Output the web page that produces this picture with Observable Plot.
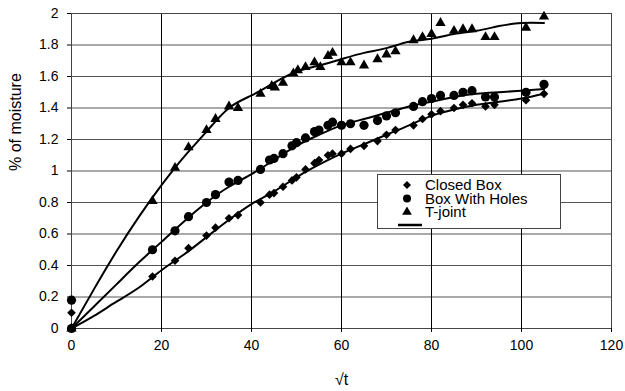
<!DOCTYPE html>
<html>
<head>
<meta charset="utf-8">
<script src="https://cdn.jsdelivr.net/npm/d3@7"></script>
<script src="https://cdn.jsdelivr.net/npm/@observablehq/plot@0.6"></script>
<style>
  html, body { margin: 0; padding: 0; background: #fff; }
  #wrap { position: relative; width: 625px; height: 391px; font-family: "Liberation Sans", Arial, sans-serif; }
  #legend { position: absolute; left: 377px; top: 174px; }
</style>
</head>
<body>
<div id="wrap"><div id="chart"></div><div id="legend"></div></div>
<script>
// ---- data ----
const seriesNames = ["Closed Box", "Box With Holes", "T-joint"];

const closedX = [0, 0, 18, 23, 26, 30, 32, 35, 37, 42, 44, 45, 47, 49, 50, 52, 54, 55, 57, 58, 60, 62, 65, 68, 70, 72, 76, 78, 80, 82, 85, 87, 89, 92, 94, 101, 105];
const closedY = [0, 0.10, 0.33, 0.43, 0.51, 0.59, 0.64, 0.70, 0.72, 0.80, 0.85, 0.86, 0.90, 0.94, 0.96, 1.01, 1.05, 1.07, 1.10, 1.11, 1.11, 1.14, 1.16, 1.19, 1.23, 1.26, 1.29, 1.33, 1.36, 1.38, 1.40, 1.42, 1.43, 1.41, 1.42, 1.45, 1.49];

const holesX = [0, 0, 18, 23, 26, 30, 32, 35, 37, 42, 44, 45, 47, 49, 50, 52, 54, 55, 57, 58, 60, 62, 65, 68, 70, 72, 76, 78, 80, 82, 85, 87, 89, 92, 94, 101, 105];
const holesY = [0, 0.18, 0.50, 0.62, 0.71, 0.80, 0.85, 0.93, 0.94, 1.01, 1.07, 1.08, 1.11, 1.16, 1.18, 1.21, 1.25, 1.26, 1.29, 1.31, 1.29, 1.30, 1.29, 1.32, 1.35, 1.37, 1.41, 1.44, 1.46, 1.48, 1.48, 1.50, 1.51, 1.47, 1.47, 1.50, 1.55];

const tjointX = [0, 18, 23, 26, 30, 32, 35, 37, 42, 44.5, 45.2, 47, 49.3, 50.3, 52, 54, 55.3, 57, 58, 60, 62, 65, 68, 70, 72, 76, 78, 80, 82, 85, 87, 89, 92, 94, 101, 105];
const tjointY = [0, 0.81, 1.02, 1.15, 1.26, 1.33, 1.41, 1.40, 1.49, 1.54, 1.53, 1.56, 1.62, 1.64, 1.66, 1.69, 1.66, 1.73, 1.75, 1.69, 1.69, 1.67, 1.71, 1.74, 1.76, 1.83, 1.85, 1.87, 1.94, 1.89, 1.90, 1.90, 1.85, 1.85, 1.91, 1.98];

// trend lines
const fitX = [0, 5, 10, 15, 20, 25, 30, 35, 40, 45, 50, 55, 60, 65, 70, 75, 80, 85, 90, 95, 100, 105];
const closedFit = [0, 0.08, 0.17, 0.26, 0.37, 0.47, 0.58, 0.69, 0.79, 0.87, 0.96, 1.04, 1.11, 1.17, 1.23, 1.29, 1.35, 1.39, 1.42, 1.44, 1.46, 1.49];
const holesFit  = [0, 0.14, 0.28, 0.42, 0.55, 0.68, 0.80, 0.90, 0.98, 1.07, 1.16, 1.23, 1.29, 1.33, 1.37, 1.41, 1.44, 1.47, 1.49, 1.50, 1.51, 1.52];
const tjointFit = [0, 0.25, 0.49, 0.71, 0.91, 1.09, 1.25, 1.40, 1.48, 1.56, 1.63, 1.67, 1.71, 1.75, 1.78, 1.82, 1.84, 1.87, 1.89, 1.92, 1.94, 1.94];

const xTicks = [0, 20, 40, 60, 80, 100, 120];
const yTicks = [0, 0.2, 0.4, 0.6, 0.8, 1, 1.2, 1.4, 1.6, 1.8, 2];
const xLabel = "√t";
const yLabel = "% of moisture";

// ---- build tables ----
const toPts = (xs, ys) => xs.map((x, i) => ({x, y: ys[i]}));
const closedPts = toPts(closedX, closedY);
const holesPts = toPts(holesX, holesY);
const tjointPts = toPts(tjointX, tjointY);
const closedLine = toPts(fitX, closedFit);
const holesLine = toPts(fitX, holesFit);
const tjointLine = toPts(fitX, tjointFit);

const chart = Plot.plot({
  width: 625,
  height: 391,
  marginLeft: 71,
  marginRight: 14,
  marginTop: 13,
  marginBottom: 63,
  style: {fontFamily: "'Liberation Sans', Arial, sans-serif", fontSize: "14px", color: "#000", background: "#fff"},
  x: {domain: [0, 120]},
  y: {domain: [0, 2]},
  marks: [
    Plot.gridY(yTicks, {stroke: "#555", strokeOpacity: 1, strokeWidth: 1}),
    Plot.gridX(xTicks, {stroke: "#000", strokeOpacity: 1, strokeWidth: 1}),
    Plot.frame({stroke: "#444", strokeWidth: 1}),
    Plot.axisX(xTicks, {tickSize: 4, tickPadding: 8, fontSize: 14, label: null, tickFormat: d => String(d)}),
    Plot.axisY(yTicks, {tickSize: 4, tickPadding: 9, fontSize: 14, label: null, tickFormat: d => String(d)}),
    Plot.text([yLabel], {frameAnchor: "left", dx: -56, rotate: -90, fontSize: 16}),
    Plot.text([xLabel], {frameAnchor: "bottom", dy: 56, fontSize: 16}),
    Plot.line(closedLine, {x: "x", y: "y", stroke: "#000", strokeWidth: 2, curve: "natural"}),
    Plot.line(holesLine, {x: "x", y: "y", stroke: "#000", strokeWidth: 2, curve: "natural"}),
    Plot.line(tjointLine, {x: "x", y: "y", stroke: "#000", strokeWidth: 2, curve: "natural"}),
    Plot.dot(closedPts, {x: "x", y: "y", symbol: "diamond2", r: 3.9, fill: "#000", stroke: "none"}),
    Plot.dot(holesPts, {x: "x", y: "y", symbol: "circle", r: 4.6, fill: "#000", stroke: "none"}),
    Plot.dot(tjointPts, {x: "x", y: "y", symbol: "triangle", r: 3.8, fill: "#000", stroke: "none"})
  ]
});
document.getElementById("chart").appendChild(chart);

// ---- legend (overlay box inside plot area) ----
const lg = d3.select("#legend").append("svg").attr("width", 184).attr("height", 55)
  .style("font-family", "'Liberation Sans', Arial, sans-serif");
lg.append("rect").attr("x", 0.5).attr("y", 0.5).attr("width", 183).attr("height", 54)
  .attr("fill", "#fff").attr("stroke", "#444");
const syms = [d3.symbolDiamond2, d3.symbolCircle, d3.symbolTriangle];
const sizes = [Math.PI * 3.6 * 3.6, Math.PI * 4.0 * 4.0, Math.PI * 3.6 * 3.6];
const rowsY = [11, 24.5, 38];
seriesNames.forEach((name, i) => {
  lg.append("path").attr("d", d3.symbol(syms[i], sizes[i])()).attr("transform", `translate(30,${rowsY[i]})`).attr("fill", "#000");
  lg.append("text").attr("x", 48).attr("y", rowsY[i] + 5).attr("font-size", 15).attr("fill", "#000").text(name);
});
lg.append("line").attr("x1", 21).attr("x2", 45).attr("y1", 51).attr("y2", 51).attr("stroke", "#000").attr("stroke-width", 2.5);
</script>
</body>
</html>
